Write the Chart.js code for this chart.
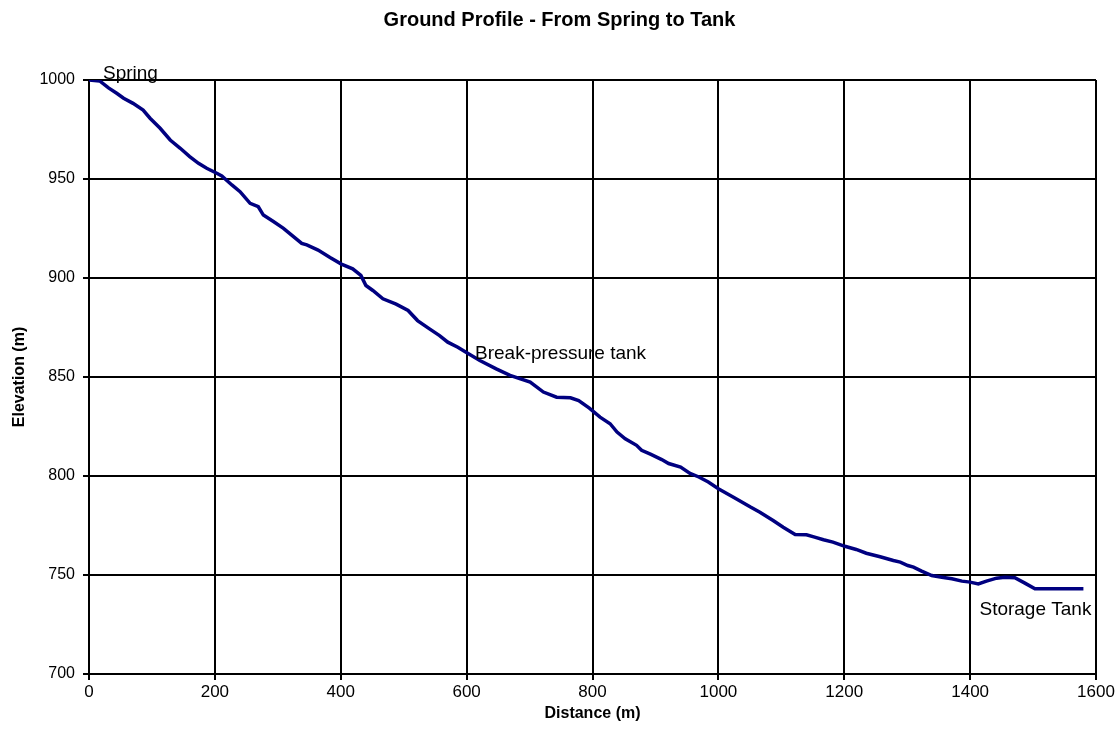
<!DOCTYPE html>
<html>
<head>
<meta charset="utf-8">
<script src="https://cdn.jsdelivr.net/npm/chart.js@4/dist/chart.umd.min.js"></script>
<style>
    html, body { margin: 0; padding: 0; background: #fff; }
    canvas { display: block; }
</style>
</head>
<body>
<canvas id="profileChart" width="1119" height="738"></canvas>
<script>
// Ground profile readings, distance (m) vs elevation (m)
const distance = [
    0, 17, 31, 44, 55, 70, 86, 97, 113, 129, 145, 160, 174, 187, 203, 211,
    227, 240, 256, 269, 277, 293, 309, 322, 338, 346, 364, 383, 401, 419, 432, 440,
    451, 467, 488, 507, 522, 541, 557, 570, 586, 599, 621, 647, 669, 701, 722, 743,
    765, 778, 795, 812, 828, 839, 852, 870, 878, 892, 910, 921, 940, 955, 969, 984,
    1000, 1024, 1051, 1066, 1087, 1103, 1122, 1140, 1153, 1167, 1182, 1201, 1219, 1235, 1257, 1278,
    1289, 1301, 1310, 1323, 1339, 1355, 1371, 1387, 1400, 1413, 1426, 1442, 1455, 1471, 1487, 1503,
    1532, 1580
];
const elevation = [
    1000, 999.5, 996, 993.3, 990.8, 988.2, 984.8, 980.7, 975.6, 969.7, 965.5, 961.3, 957.9, 955.4, 952.9, 951.5,
    947, 943.6, 937.7, 936, 931.8, 928.5, 925.1, 921.7, 917.5, 916.7, 914.1, 910.3, 907, 904.6, 901.3, 896.2,
    893.7, 889.5, 886.8, 883.6, 878.5, 874.3, 870.9, 867.6, 865, 862.5, 858.3, 854.1, 850.8, 847.4, 842.4, 839.8,
    839.5, 838.1, 834.3, 829.7, 826.4, 822.2, 818.8, 815.5, 813, 811, 808.3, 806.3, 804.5, 801.3, 799.5, 797,
    793.6, 789.3, 784.3, 781.7, 777.5, 774.1, 770.5, 770.3, 769.1, 767.8, 766.6, 764.5, 762.9, 761, 759.2, 757.3,
    756.5, 754.8, 754, 752, 749.7, 748.9, 748.1, 746.9, 746.4, 745.5, 746.9, 748.4, 748.9, 748.6, 745.9, 743,
    743, 743
];

const xTickValues = [0, 200, 400, 600, 800, 1000, 1200, 1400, 1600];
const yTickValues = [700, 750, 800, 850, 900, 950, 1000];

const placeNames = ['Spring', 'Break-pressure tank', 'Storage Tank'];
const placeDistances = [0, 599, 1580];

const FONT = '"Liberation Sans", Arial, sans-serif';

// draws the place names next to their points on the line
const placeLabels = {
    id: 'placeLabels',
    afterDatasetsDraw(chart, args, opts) {
        const ctx = chart.ctx;
        const x = chart.scales.x;
        const y = chart.scales.y;
        ctx.save();
        ctx.font = opts.font;
        ctx.fillStyle = '#000';
        ctx.textBaseline = 'alphabetic';
        placeNames.forEach((name, i) => {
            const idx = distance.indexOf(placeDistances[i]);
            const px = x.getPixelForValue(distance[idx]);
            const py = y.getPixelForValue(elevation[idx]);
            const off = opts.offsets[i];
            ctx.textAlign = off.align;
            ctx.fillText(name, px + off.dx, py + off.dy);
        });
        ctx.restore();
    }
};

const ctx = document.getElementById('profileChart').getContext('2d');
const profileChart = new Chart(ctx, {
    type: 'line',
    data: {
        datasets: [{
            label: 'Ground profile',
            data: distance.map((d, i) => ({ x: d, y: elevation[i] })),
            borderColor: '#000080',
            borderWidth: 3.5,
            pointRadius: 0,
            tension: 0,
            fill: false
        }]
    },
    options: {
        responsive: false,
        animation: false,
        layout: {
            padding: 0
        },
        plugins: {
            legend: { display: false },
            tooltip: { enabled: false },
            title: {
                display: true,
                text: 'Ground Profile - From Spring to Tank',
                color: '#000',
                font: { family: FONT, size: 20, weight: 'bold' },
                padding: { top: 8, bottom: 48 }
            },
            placeLabels: {
                font: '19px ' + FONT,
                offsets: [
                    { dx: 14, dy: -1, align: 'left' },
                    { dx: 9, dy: 6.5, align: 'left' },
                    { dx: 8, dy: 26, align: 'right' }
                ]
            }
        },
        scales: {
            x: {
                type: 'linear',
                min: 0,
                max: 1600,
                afterBuildTicks: (scale) => {
                    scale.ticks = xTickValues.map(v => ({ value: v }));
                },
                afterFit: (scale) => {
                    scale.height = 64;
                    scale.paddingLeft = 0;
                    scale.paddingRight = 23;
                },
                ticks: {
                    color: '#000',
                    font: { family: FONT, size: 17 },
                    padding: 2,
                    maxRotation: 0,
                    callback: (v) => String(v)
                },
                grid: {
                    color: '#000',
                    lineWidth: 2,
                    tickLength: 6,
                    tickColor: '#000'
                },
                border: { color: '#000', width: 2 },
                title: {
                    display: true,
                    text: 'Distance (m)',
                    color: '#000',
                    font: { family: FONT, size: 16, weight: 'bold' },
                    padding: { top: 0, bottom: 15 }
                }
            },
            y: {
                type: 'linear',
                min: 700,
                max: 1000,
                afterBuildTicks: (scale) => {
                    scale.ticks = yTickValues.map(v => ({ value: v }));
                },
                afterFit: (scale) => { scale.width = 89; },
                ticks: {
                    color: '#000',
                    font: { family: FONT, size: 16 },
                    padding: 8,
                    callback: (v) => String(v)
                },
                grid: {
                    color: '#000',
                    lineWidth: 2,
                    tickLength: 6,
                    tickColor: '#000'
                },
                border: { color: '#000', width: 2 },
                title: {
                    display: true,
                    text: 'Elevation (m)',
                    color: '#000',
                    font: { family: FONT, size: 16, weight: 'bold' },
                    padding: { top: 9.5, bottom: 0 }
                }
            }
        }
    },
    plugins: [placeLabels]
});
</script>
</body>
</html>
